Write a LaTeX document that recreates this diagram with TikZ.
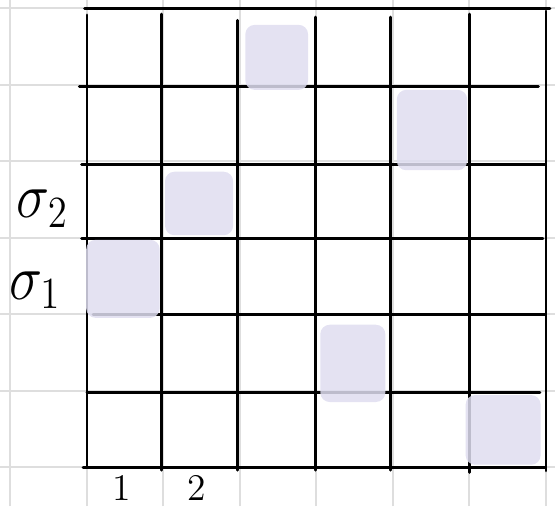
\documentclass[tikz,border=0pt]{standalone}
\usepackage{amsmath,amssymb}
\usepackage{tikz}
\usetikzlibrary{positioning}

\definecolor{paperline}{RGB}{222,222,222}
\definecolor{lavender}{RGB}{223,221,240}

\tikzset{
  paper/.style={draw=paperline,line width=0.75pt},
  ink/.style={draw=black,line width=1.1pt,line cap=round},
  blob/.style={fill=lavender,fill opacity=0.85,rounded corners=3.5pt},
  hand/.style={font=\fontsize{22}{24}\selectfont,inner sep=0pt,yscale=1.15},
  tick/.style={font=\fontsize{14}{16}\selectfont,inner sep=0pt}
}

\begin{document}
\begin{tikzpicture}[x=1cm,y=1cm]
  \useasboundingbox (-1.137,-0.51) rectangle (6.118,6.105);
  % graph paper
  \foreach \gx in {-1,...,6}
    \draw[paper] (\gx,-0.51) -- (\gx,6.105);
  \foreach \gy in {0,...,6}
    \draw[paper] (-1.137,\gy) -- (6.118,\gy);
  % the grid
  \draw[ink] (0,5.91) -- (0,0);
  \draw[ink] (0.97,5.92) -- (0.97,-0.04);
  \draw[ink] (1.97,5.84) -- (1.97,-0.04);
  \draw[ink] (2.99,5.88) -- (2.99,-0.04);
  \draw[ink] (3.97,5.88) -- (3.97,-0.04);
  \draw[ink] (5.0,5.92) -- (5.0,-0.07);
  \draw[ink] (6.0,5.96) -- (6.0,-0.05);
  \draw[ink] (-0.03,5.99) -- (6.05,5.99);
  \draw[ink] (-0.1,4.98) -- (5.9,4.98);
  \draw[ink] (-0.07,3.95) -- (5.99,3.95);
  \draw[ink] (-0.07,2.99) -- (5.96,2.99);
  \draw[ink] (0.08,1.99) -- (5.99,1.99);
  \draw[ink] (0,0.97) -- (5.92,0.97);
  \draw[ink] (-0.05,0) -- (5.99,0);
  % marked cells
  \fill[blob] (2.07,4.93) rectangle (2.89,5.78);
  \fill[blob] (4.05,3.88) rectangle (4.97,4.93);
  \fill[blob] (1.02,3.03) rectangle (1.91,3.86);
  \fill[blob] (-0.01,1.95) rectangle (0.95,2.97);
  \fill[blob] (3.05,0.85) rectangle (3.9,1.86);
  \fill[blob] (4.95,0.03) rectangle (5.93,0.94);
  % labels
  \node[hand] (sig2) at (-0.58,3.38) {$\sigma_2$};
  \node[hand] (sig1) at (-0.68,2.31) {$\sigma_1$};
  \node[tick] (col1) at (0.46,-0.28) {1};
  \node[tick] (col2) at (1.44,-0.27) {2};
\end{tikzpicture}
\end{document}
